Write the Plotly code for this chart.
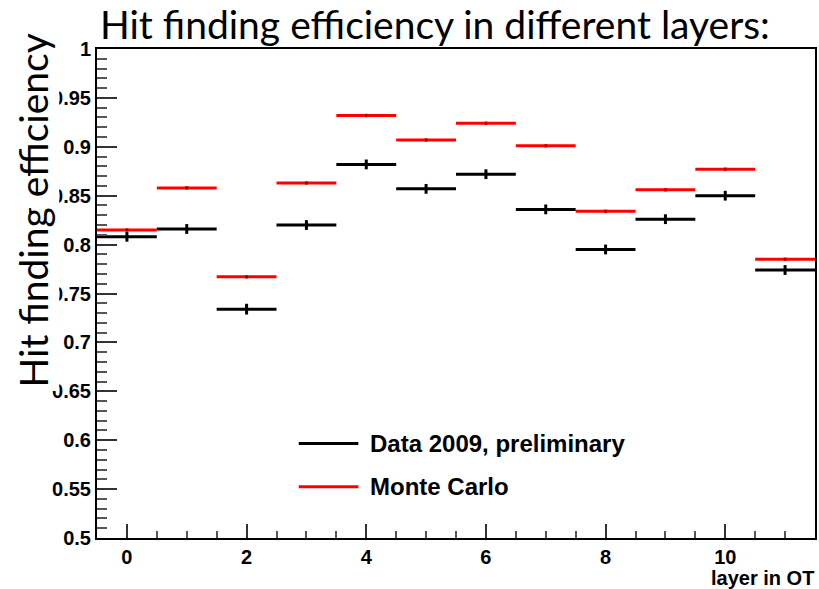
import plotly.graph_objects as go

layers = list(range(12))
data_eff = [0.808, 0.816, 0.734, 0.820, 0.882, 0.857, 0.872, 0.836, 0.795, 0.826, 0.850, 0.774]
data_err = [0.005, 0.005, 0.0055, 0.005, 0.005, 0.005, 0.005, 0.005, 0.005, 0.005, 0.005, 0.005]
mc_eff = [0.815, 0.858, 0.767, 0.863, 0.932, 0.907, 0.924, 0.901, 0.834, 0.856, 0.877, 0.785]
mc_err = [0.0018] * 12
half_width = [0.5] * 12

y_ticks = [0.5, 0.55, 0.6, 0.65, 0.7, 0.75, 0.8, 0.85, 0.9, 0.95, 1.0]
y_ticktext = ["0.5", "0.55", "0.6", "0.65", "0.7", "0.75", "0.8", "0.85", "0.9", "0.95", "1"]
x_ticks = [0, 2, 4, 6, 8, 10]

fig = go.Figure()
fig.add_trace(go.Scatter(
    x=layers, y=mc_eff, mode="markers", name="Monte Carlo",
    marker=dict(size=2, color="black"),
    error_x=dict(type="data", array=half_width, color="red", thickness=3, width=0),
    error_y=dict(type="data", array=mc_err, color="red", thickness=3, width=0),
))
fig.add_trace(go.Scatter(
    x=layers, y=data_eff, mode="markers", name="Data 2009, preliminary",
    marker=dict(size=2, color="black"),
    error_x=dict(type="data", array=half_width, color="black", thickness=3, width=0),
    error_y=dict(type="data", array=data_err, color="black", thickness=3, width=0),
))

tickfont = dict(family="Liberation Sans", size=20, color="black", weight=700)
fig.update_xaxes(
    range=[-0.5, 11.5], tickvals=x_ticks, ticks="inside", ticklen=14, tickwidth=1.5,
    tickcolor="#333", showline=True, linecolor="black", linewidth=2, mirror=True,
    showgrid=False, zeroline=False, tickfont=tickfont,
    minor=dict(dtick=0.5, tick0=0, ticks="inside", ticklen=7, tickwidth=1.5, tickcolor="#555", showgrid=False),
)
fig.update_yaxes(
    range=[0.5, 1.0], tickvals=y_ticks, ticktext=y_ticktext, ticks="inside", ticklen=20, tickwidth=1.5,
    tickcolor="#333", showline=True, linecolor="black", linewidth=2, mirror=True,
    showgrid=False, zeroline=False, tickfont=tickfont,
    minor=dict(dtick=0.01, tick0=0.5, ticks="inside", ticklen=10, tickwidth=1.5, tickcolor="#555", showgrid=False),
)

annotations = [
    dict(text="Hit finding efficiency in different layers:", xref="paper", yref="paper",
         x=0.002, y=1.0, xanchor="left", yanchor="bottom", showarrow=False,
         font=dict(family="Lato", size=39, color="black")),
    dict(text="Hit finding efficiency", xref="paper", yref="paper",
         x=-0.089, y=0.67, xanchor="center", yanchor="middle", textangle=-90, showarrow=False,
         bgcolor="white", borderpad=3,
         font=dict(family="Lato", size=39, color="black")),
    dict(text="<b>layer in OT</b>", xref="paper", yref="paper",
         x=1.0, y=-0.107, xanchor="right", yanchor="bottom", showarrow=False, borderpad=0,
         font=dict(family="Liberation Sans", size=20, color="black")),
    dict(text="<b>Data 2009, preliminary</b>", xref="paper", yref="paper",
         x=0.377, y=0.193, xanchor="left", yanchor="middle", showarrow=False,
         font=dict(family="Liberation Sans", size=24, color="black")),
    dict(text="<b>Monte Carlo</b>", xref="paper", yref="paper",
         x=0.377, y=0.105, xanchor="left", yanchor="middle", showarrow=False,
         font=dict(family="Liberation Sans", size=24, color="black")),
]
shapes = [
    dict(type="line", xref="paper", yref="paper", x0=0.281, x1=0.364, y0=0.193, y1=0.193,
         line=dict(color="black", width=3)),
    dict(type="line", xref="paper", yref="paper", x0=0.281, x1=0.364, y0=0.105, y1=0.105,
         line=dict(color="red", width=3)),
]

fig.update_layout(
    width=819, height=589, margin=dict(l=97, r=2, t=49, b=51),
    paper_bgcolor="white", plot_bgcolor="white", showlegend=False,
    annotations=annotations, shapes=shapes,
)
fig.write_html("out.html")
